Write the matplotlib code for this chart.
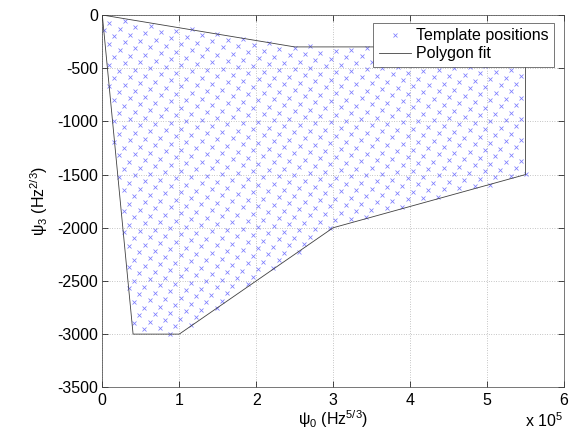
import numpy as np
import matplotlib
matplotlib.use("Agg")
import matplotlib.pyplot as plt
from matplotlib.path import Path
from matplotlib.ticker import FuncFormatter

plt.rcParams['font.family'] = ['Liberation Sans', 'DejaVu Sans']
plt.rcParams['mathtext.fontset'] = 'custom'
plt.rcParams['mathtext.rm'] = 'Liberation Sans'
plt.rcParams['mathtext.it'] = 'Liberation Sans'
plt.rcParams['axes.unicode_minus'] = False

# polygon fit vertices (psi0 in Hz^5/3, psi3 in Hz^2/3)
poly_psi0 = [0, 2.5e5, 5.5e5, 5.5e5, 3.0e5, 1.0e5, 0.4e5, 0]
poly_psi3 = [0, -300, -300, -1500, -2000, -3000, -3000, 0]

# template bank lattice: one template and two step vectors
lattice_origin = (9100.0, -72.0)
lattice_step_a = (20095.0, 13.3)
lattice_step_b = (-6729.0, -70.6)

x_ticks = [0, 1e5, 2e5, 3e5, 4e5, 5e5, 6e5]
y_ticks = [0, -500, -1000, -1500, -2000, -2500, -3000, -3500]

FS = 11.5

# pixel-ish scale used to decide which lattice points are kept
sx, sy = 1299.5, 9.40

def template_positions():
    m, n = np.meshgrid(np.arange(-30, 50), np.arange(-5, 60))
    m = m.ravel(); n = n.ravel()
    px = lattice_origin[0] + m * lattice_step_a[0] + n * lattice_step_b[0]
    py = lattice_origin[1] + m * lattice_step_a[1] + n * lattice_step_b[1]
    poly = np.column_stack([np.array(poly_psi0) / sx, np.array(poly_psi3) / sy])
    pts = np.column_stack([px / sx, py / sy])
    inside = Path(poly).contains_points(pts)
    # distance to polygon edges, so points sitting on the boundary are kept
    d = np.full(len(pts), np.inf)
    for p0, p1 in zip(poly[:-1], poly[1:]):
        seg = p1 - p0
        t = np.clip(((pts - p0) @ seg) / (seg @ seg), 0, 1)
        proj = p0 + t[:, None] * seg
        d = np.minimum(d, np.hypot(*(pts - proj).T))
    keep = inside | (d < 0.7)
    return px[keep], py[keep]

tx, ty = template_positions()

fig = plt.figure(figsize=(5.82, 4.37), dpi=100)
ax = fig.add_axes([102.3 / 582, 1 - 387.3 / 437, (564 - 102.3) / 582, (387.3 - 15) / 437])

ax.plot(tx, ty, 'x', color='#7b7bff', markersize=3.5, markeredgewidth=0.55,
        label='Template positions')
ax.plot(poly_psi0, poly_psi3, '-', color='#404040', linewidth=0.6, label='Polygon fit')

ax.set_xlim(0, 6e5)
ax.set_ylim(-3500, 0)
ax.set_xticks(x_ticks)
ax.set_yticks(y_ticks)
ax.xaxis.set_major_formatter(FuncFormatter(lambda v, p: '%g' % (v / 1e5)))
ax.tick_params(direction='in', length=4, width=0.5, top=True, right=True,
               labelsize=FS)
ax.tick_params(axis='x', pad=4)
ax.tick_params(axis='y', pad=3)
for s in ax.spines.values():
    s.set_linewidth(0.5)
    s.set_color('#404040')
ax.grid(True, linestyle=(0, (1, 2.5)), color='#909090', linewidth=0.5)
ax.set_axisbelow(True)

ax.set_xlabel('ψ$_0$ (Hz$^{5/3}$)', fontsize=FS, labelpad=0)
ax.set_ylabel('ψ$_3$ (Hz$^{2/3}$)', fontsize=FS, labelpad=5)
fig.text(563 / 582, 1 - 427 / 437, 'x 10$^5$', fontsize=FS, ha='right', va='baseline')

leg = ax.legend(loc='upper right', bbox_to_anchor=(554 / 582, 1 - 22.7 / 437),
                bbox_transform=fig.transFigure, borderaxespad=0, fancybox=False,
                edgecolor='#404040', fontsize=FS, handlelength=2.0, numpoints=1,
                borderpad=0.35, labelspacing=0.2, handletextpad=0.3)
leg.get_frame().set_linewidth(0.5)
leg.get_frame().set_alpha(1)

fig.savefig('out.png', dpi=100)
